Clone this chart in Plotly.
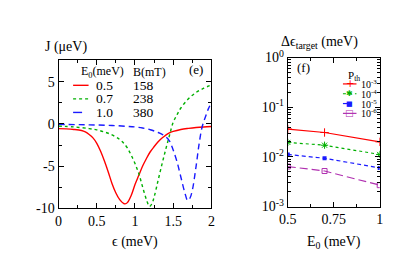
import plotly.graph_objects as go

# ---------------- data: panel (e) ----------------
eps_red = [0, 0.1, 0.2, 0.3, 0.35, 0.4, 0.45, 0.5, 0.55, 0.6, 0.65, 0.7, 0.75, 0.8, 0.85, 0.87,
           0.9, 0.95, 1.0, 1.05, 1.1, 1.15, 1.2, 1.25, 1.3, 1.35, 1.4, 1.45, 1.5, 1.6, 1.7,
           1.8, 1.9, 2.0]
J_red = [-0.55, -0.58, -0.65, -0.78, -0.95, -1.25, -1.65, -2.3, -3.25, -4.4, -5.7, -7.1, -8.2,
         -9.0, -9.45, -9.5, -9.35, -8.5, -7.2, -6.1, -5.0, -4.1, -3.3, -2.7, -2.15, -1.7, -1.35,
         -1.05, -0.88, -0.65, -0.52, -0.42, -0.35, -0.3]

eps_green = [0, 0.2, 0.4, 0.5, 0.6, 0.7, 0.8, 0.85, 0.9, 0.95, 1.0, 1.05, 1.1, 1.15, 1.19, 1.22,
             1.25, 1.3, 1.35, 1.4, 1.45, 1.5, 1.55, 1.6, 1.7, 1.8, 1.9, 2.0]
J_green = [-0.25, -0.35, -0.55, -0.7, -0.95, -1.3, -1.85, -2.25, -2.85, -3.7, -4.7, -5.9, -7.5,
           -9.0, -9.8, -9.5, -8.7, -6.8, -4.9, -3.1, -1.4, 0.2, 1.1, 1.9, 3.0, 3.75, 4.25, 4.65]

eps_blue = [0, 0.4, 0.7, 0.9, 1.0, 1.1, 1.2, 1.3, 1.35, 1.4, 1.45, 1.5, 1.55, 1.6, 1.65, 1.69,
            1.72, 1.75, 1.8, 1.84, 1.88, 1.92, 1.96, 2.0]
J_blue = [-0.05, -0.1, -0.18, -0.28, -0.35, -0.48, -0.68, -1.0, -1.2, -1.5, -2.0, -3.1, -4.5,
          -6.3, -8.1, -9.1, -8.8, -7.9, -5.0, -2.3, -0.3, 0.8, 1.8, 2.55]

E0_labels = ["0.5", "0.7", "1.0"]
B_labels = ["158", "238", "380"]

x_ticks_e = [0, 0.5, 1, 1.5, 2]
x_ticktext_e = ["0", "0.5", "1", "1.5", "2"]
y_ticks_e = [-10, -5, 0, 5]
y_ticktext_e = ["-10", "-5", "0", "5"]

# ---------------- data: panel (f) ----------------
E0 = [0.5, 0.7, 1.0]
d_p3 = [0.0364, 0.031, 0.0201]
d_p4 = [0.0196, 0.0172, 0.0112]
d_p5 = [0.0112, 0.0094, 0.006]
d_p6 = [0.0064, 0.0052, 0.0027]
P_labels = ["10<sup>-3</sup>", "10<sup>-4</sup>", "10<sup>-5</sup>", "10<sup>-6</sup>"]

x_ticks_f = [0.5, 0.75, 1]
x_ticktext_f = ["0.5", "0.75", "1"]
y_ticks_f = [1e-3, 1e-2, 1e-1, 1]
y_ticktext_f = ["10<sup>-3</sup>", "10<sup>-2</sup>", "10<sup>-1</sup>", "10<sup>0</sup>"]

# ---------------- styling ----------------
W, H = 396, 277
FONT = "'Liberation Serif', 'DejaVu Serif'"
RED, GREEN, BLUE, MAG = "#ff0000", "#00b000", "#1a1aff", "#b030b0"


def px(x):
    return x / W


def py(y):
    return 1 - y / H


fig = go.Figure()

fig.add_trace(go.Scatter(x=eps_red, y=J_red, mode="lines", line=dict(color=RED, width=1.4, shape="spline"),
                         xaxis="x", yaxis="y", showlegend=False))
fig.add_trace(go.Scatter(x=eps_green, y=J_green, mode="lines",
                         line=dict(color=GREEN, width=1.4, dash="dot", shape="spline"),
                         xaxis="x", yaxis="y", showlegend=False))
fig.add_trace(go.Scatter(x=eps_blue, y=J_blue, mode="lines",
                         line=dict(color=BLUE, width=1.4, dash="6px,4px", shape="spline"),
                         xaxis="x", yaxis="y", showlegend=False))

fig.add_trace(go.Scatter(x=E0, y=d_p3, mode="lines+markers", line=dict(color=RED, width=1.2),
                         marker=dict(symbol="cross-thin", size=6, line=dict(color=RED, width=1)),
                         xaxis="x2", yaxis="y2", showlegend=False))
fig.add_trace(go.Scatter(x=E0, y=d_p4, mode="lines+markers", line=dict(color=GREEN, width=1.2, dash="dot"),
                         marker=dict(symbol="asterisk-open", size=6, line=dict(color=GREEN, width=1)),
                         xaxis="x2", yaxis="y2", showlegend=False))
fig.add_trace(go.Scatter(x=E0, y=d_p5, mode="lines+markers", line=dict(color=BLUE, width=1.2, dash="4px,3px"),
                         marker=dict(symbol="square", size=4, color=BLUE),
                         xaxis="x2", yaxis="y2", showlegend=False))
fig.add_trace(go.Scatter(x=E0, y=d_p6, mode="lines+markers", line=dict(color=MAG, width=1.2, dash="8px,4px"),
                         marker=dict(symbol="square-open", size=5, color=MAG, line=dict(color=MAG, width=1)),
                         xaxis="x2", yaxis="y2", showlegend=False))

axis_common = dict(showline=True, linecolor="black", linewidth=1, mirror="ticks", ticks="inside",
                   ticklen=5, tickcolor="black", showgrid=False, zeroline=False,
                   tickfont=dict(family=FONT, size=14, color="black"))

fig.update_layout(
    width=W, height=H, margin=dict(l=0, r=0, t=0, b=0),
    paper_bgcolor="white", plot_bgcolor="white",
    font=dict(family=FONT, size=14, color="black"),
    xaxis=dict(domain=[px(43), px(201)], range=[0, 2], tickvals=x_ticks_e, ticktext=x_ticktext_e,
               minor=dict(ticks="inside", ticklen=3, dtick=0.25, tickcolor="black"),
               anchor="y", **axis_common),
    yaxis=dict(domain=[py(203.3), py(45)], range=[-10, 7.6], tickvals=y_ticks_e, ticktext=y_ticktext_e,
               minor=dict(ticks="inside", ticklen=3, dtick=2.5, tickcolor="black"),
               anchor="x", **axis_common),
    xaxis2=dict(domain=[px(280), px(375)], range=[0.5, 1], tickvals=x_ticks_f, ticktext=x_ticktext_f,
                minor=dict(ticks="inside", ticklen=3, dtick=0.125, tickcolor="black"),
                anchor="y2", **axis_common),
    yaxis2=dict(domain=[py(201.7), py(42.3)], type="log", range=[-3, 0], tickvals=y_ticks_f,
                ticktext=y_ticktext_f,
                minor=dict(ticks="inside", ticklen=3, dtick="D1", tickcolor="black"),
                anchor="x2", **axis_common),
)

ann = []


def text(x, y, s, size=14, xanchor="center", color="black"):
    ann.append(dict(x=px(x), y=py(y), xref="paper", yref="paper", text=s, showarrow=False,
                    xanchor=xanchor, yanchor="middle", font=dict(family=FONT, size=size, color=color)))


# axis titles
text(27, 31.5, "J (μeV)", 14, "left")
text(122, 240, "ϵ (meV)", 14)
text(313, 26, "Δϵ<sub>target</sub> (meV)", 14)
text(328, 240, "E<sub>0</sub> (meV)", 14)
# panel labels
text(185, 55, "(e)", 13)
text(296, 53, "(f)", 13)

# legend (e)
text(64, 58, "E<sub>0</sub>(meV)", 12, "left")
text(118, 58, "B(mT)", 12, "left")
rows_e = [72, 86.5, 101]
colors_e = [RED, GREEN, BLUE]
dashes_e = ["solid", "dot", "dash"]
shapes = []
for i in range(3):
    text(80, rows_e[i], E0_labels[i], 13.5, "left")
    text(118, rows_e[i], B_labels[i], 13.5, "left")
    shapes.append(dict(type="line", xref="paper", yref="paper", x0=px(58), x1=px(74),
                       y0=py(rows_e[i]), y1=py(rows_e[i]),
                       line=dict(color=colors_e[i], width=1.4, dash=dashes_e[i])))

# legend (f)
text(348, 62, "P<sub>th</sub>", 11)
rows_f = [70.5, 81, 91.5, 102]
colors_f = [RED, GREEN, BLUE, MAG]
dashes_f = ["solid", "dot", "dash", "longdash"]
glyphs = ["+", "✱", "■", "□"]
glyph_sizes = [10, 8, 7, 9]
for i in range(4):
    text(354, rows_f[i], P_labels[i], 10, "left")
    shapes.append(dict(type="line", xref="paper", yref="paper", x0=px(337), x1=px(351),
                       y0=py(rows_f[i]), y1=py(rows_f[i]),
                       line=dict(color=colors_f[i], width=1.2, dash=dashes_f[i])))
    ann.append(dict(x=px(344), y=py(rows_f[i]), xref="paper", yref="paper", text=glyphs[i],
                    showarrow=False, xanchor="center", yanchor="middle",
                    font=dict(family="DejaVu Sans", size=glyph_sizes[i], color=colors_f[i])))

fig.update_layout(annotations=ann, shapes=shapes)
fig.write_html("out.html")
